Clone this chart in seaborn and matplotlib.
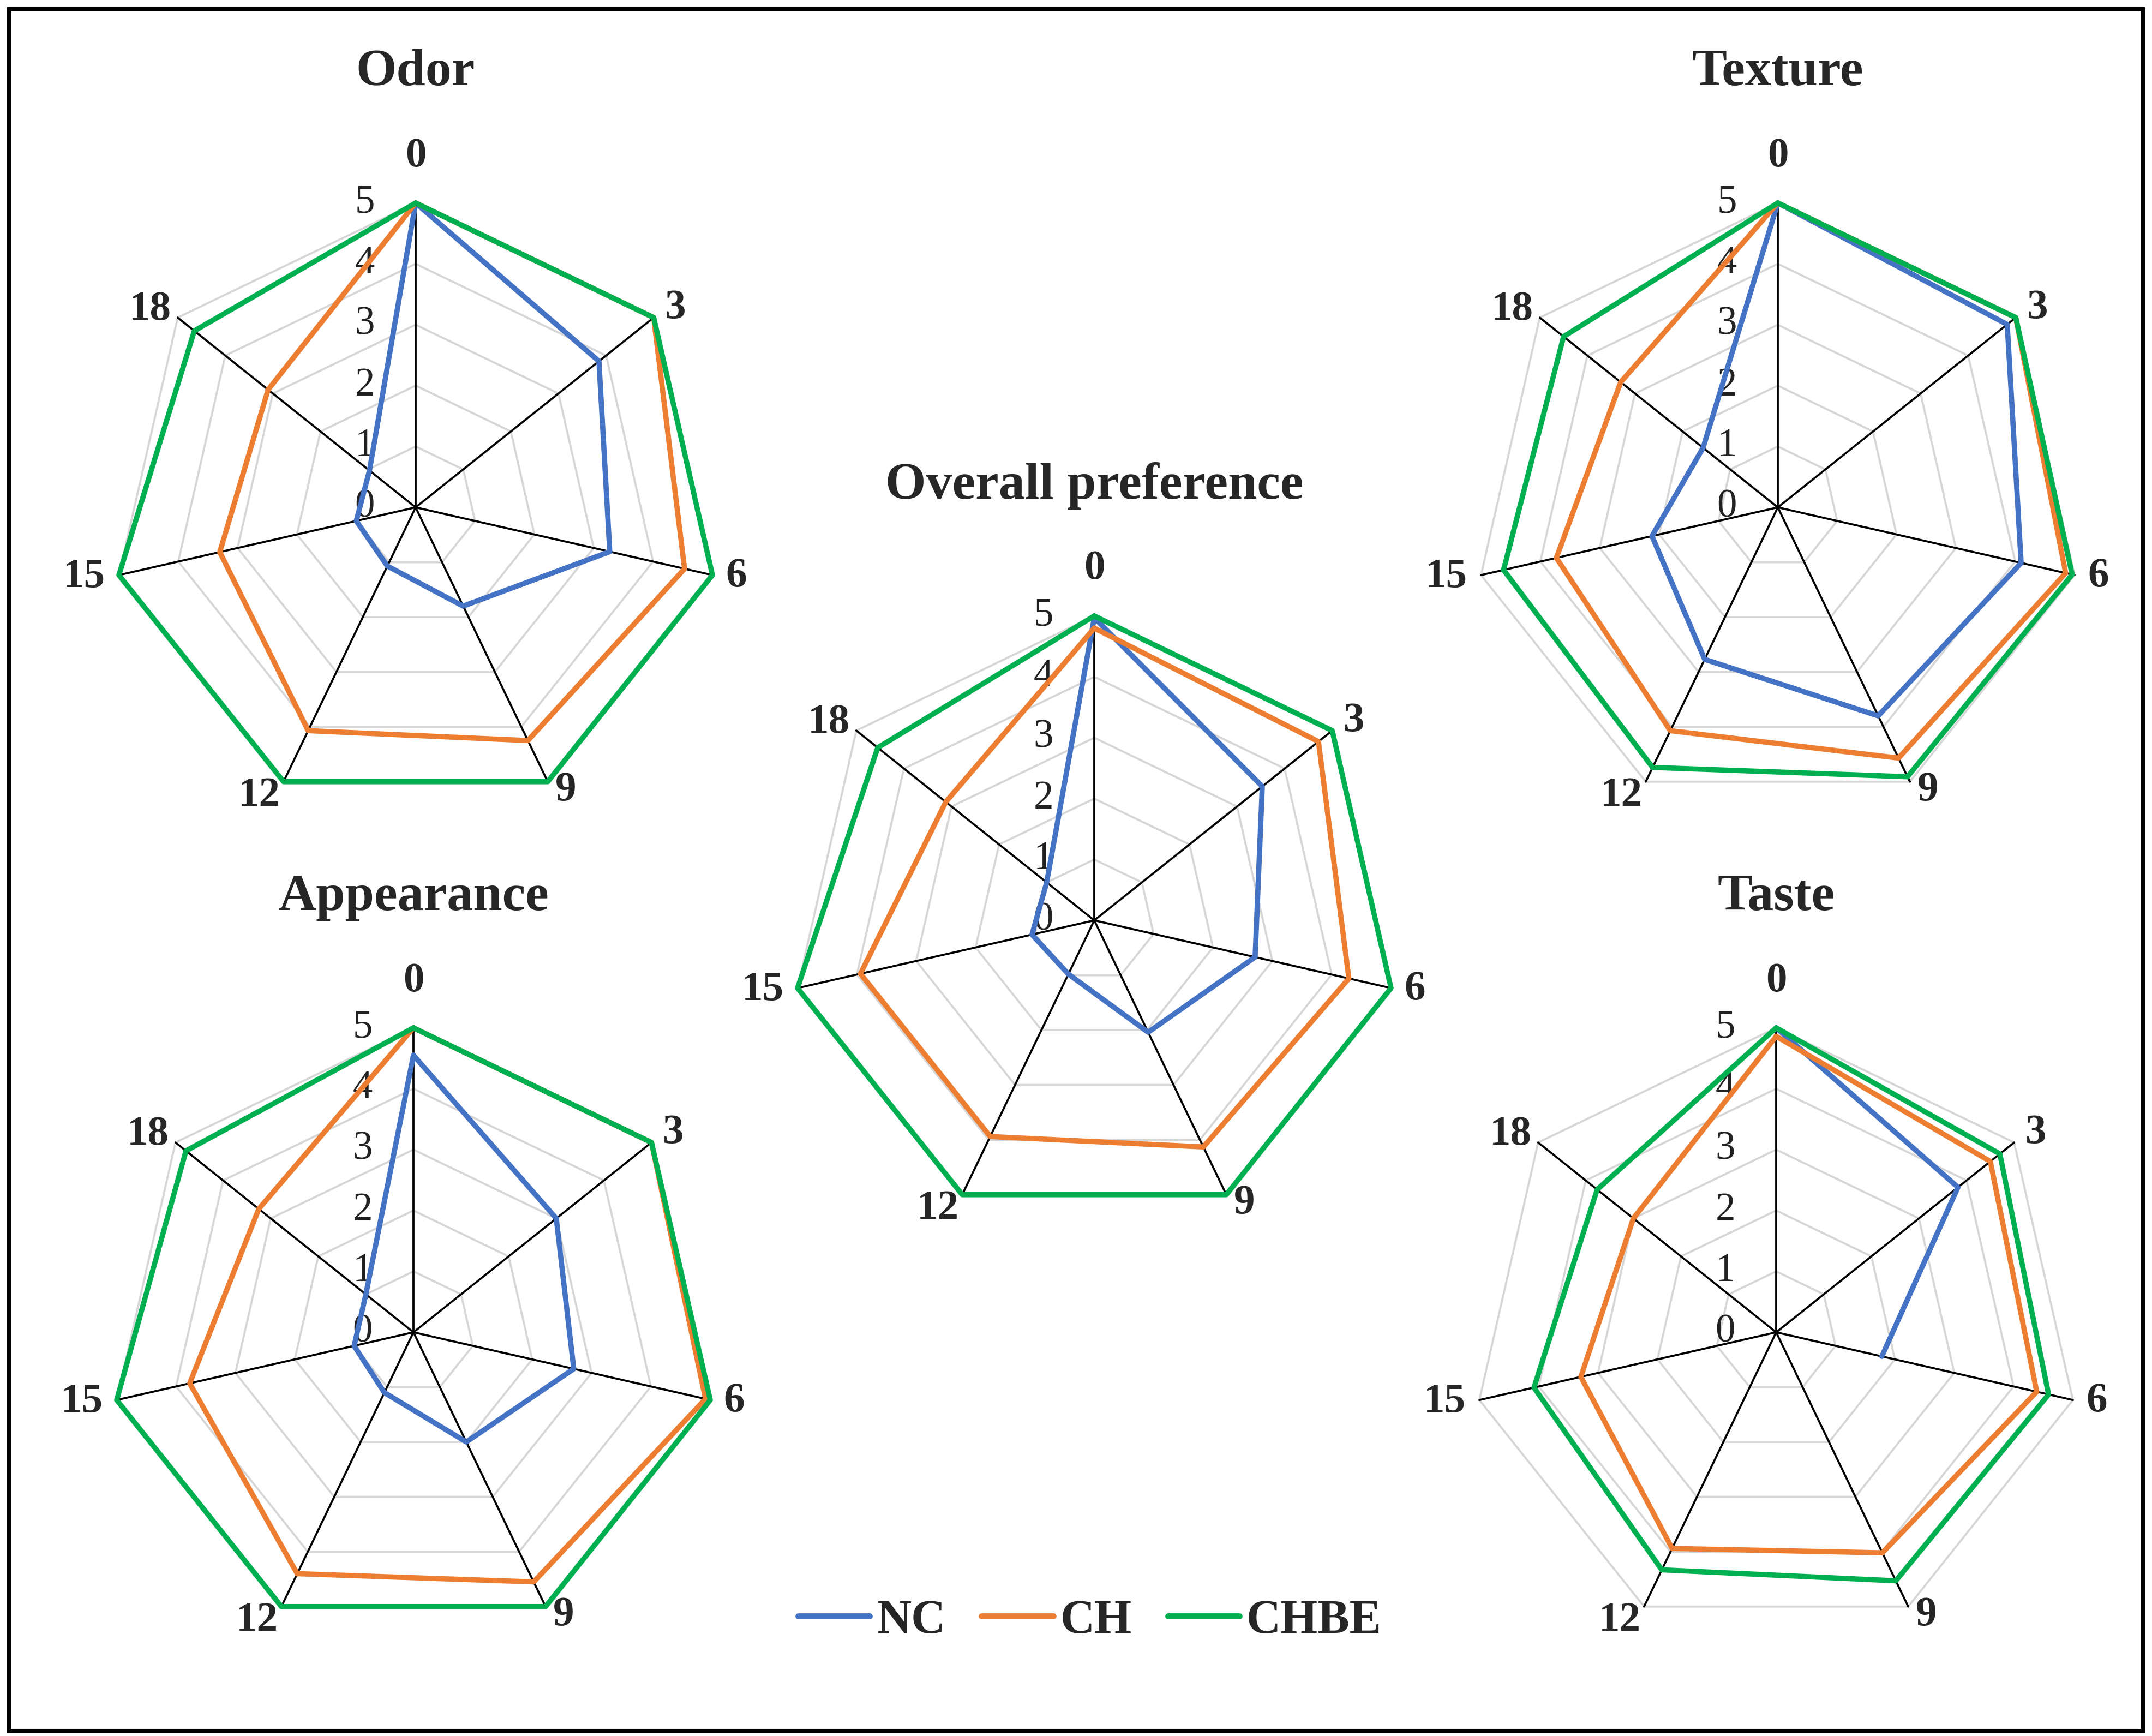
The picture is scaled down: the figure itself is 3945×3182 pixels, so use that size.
import numpy as np
import pandas as pd
import matplotlib
matplotlib.use("Agg")
import matplotlib.pyplot as plt
from matplotlib.lines import Line2D
from matplotlib.patches import Rectangle
import seaborn as sns

# ---------------- data ----------------
time_points = ["0", "3", "6", "9", "12", "15", "18"]
series_names = ["NC", "CH", "CHBE"]

odor_nc = [5.0, 3.85, 3.27, 1.80, 1.07, 1.00, 0.97]
odor_ch = [5.0, 5.0, 4.53, 4.25, 4.07, 3.30, 3.10]
odor_chbe = [5.0, 5.0, 5.0, 5.0, 5.0, 5.0, 4.65]

texture_nc = [5.0, 4.82, 4.10, 3.80, 2.77, 2.12, 1.57]
texture_ch = [5.0, 5.0, 4.85, 4.57, 4.07, 3.73, 3.30]
texture_chbe = [5.0, 5.0, 4.96, 4.91, 4.74, 4.62, 4.50]

overall_nc = [4.97, 3.53, 2.71, 2.04, 0.98, 1.05, 1.00]
overall_ch = [4.80, 4.71, 4.29, 4.13, 3.94, 3.94, 3.12]
overall_chbe = [5.0, 5.0, 5.0, 5.0, 5.0, 5.0, 4.55]

appearance_nc = [4.55, 3.00, 2.70, 2.00, 1.10, 1.00, 1.00]
appearance_ch = [5.0, 5.0, 4.92, 4.55, 4.40, 3.77, 3.25]
appearance_chbe = [5.0, 5.0, 5.0, 5.0, 5.0, 5.0, 4.78]

taste_nc = [5.0, 3.82, 1.78, np.nan, np.nan, np.nan, np.nan]
taste_ch = [4.86, 4.50, 4.39, 4.02, 3.94, 3.29, 3.00]
taste_chbe = [5.0, 4.70, 4.59, 4.53, 4.33, 4.08, 3.76]

radial_ticks = [0, 1, 2, 3, 4, 5]

# ---------------- style ----------------
sns.set_theme(style="white")
plt.rcParams["font.family"] = ["Liberation Serif", "DejaVu Serif"]

colors = {"NC": "#4472C4", "CH": "#ED7D31", "CHBE": "#00B050"}
W, H = 3945, 3182
DPI = 300
fig = plt.figure(figsize=(W / DPI, H / DPI), dpi=DPI)
fig.patch.set_facecolor("white")

R = 558  # pixel radius of the value 5 ring
n = len(time_points)
thetas = np.arange(n) * 2 * np.pi / n

# label offsets in pixels (dx right, dy up) relative to the end of each spoke
label_offsets_px = [(0, 86), (40, 18), (44, -2), (33, -16), (-44, -26), (-64, -3), (-50, 15)]


def radar(cx, cy, title, nc, ch, chbe):
    ax = fig.add_axes([(cx - R) / W, 1 - (cy + R) / H, 2 * R / W, 2 * R / H],
                      projection="polar")
    ax.set_theta_zero_location("N")
    ax.set_theta_direction(-1)
    ax.patch.set_alpha(0)
    ax.grid(False)
    ax.set_xticks([])
    ax.set_yticks([])
    ax.spines["polar"].set_visible(False)

    th_closed = np.append(thetas, thetas[0])
    # polygon gridlines
    for lev in radial_ticks[1:]:
        ax.plot(th_closed, [lev] * (n + 1), color="#d6d6d6", lw=0.9, zorder=1,
                clip_on=False)
    # spokes
    for t in thetas:
        ax.plot([t, t], [0, 5], color="black", lw=0.9, zorder=2, clip_on=False)

    # radial value labels
    for v in radial_ticks:
        ax.annotate(str(v), xy=(0, v), xytext=(-18, 0), textcoords="offset points",
                    ha="right", va="center", fontsize=17.5, color="#222222",
                    zorder=1.5, annotation_clip=False)

    # category labels
    for t, lab, (dx, dy) in zip(thetas, time_points, label_offsets_px):
        ax.annotate(lab, xy=(t, 5), xytext=(dx * 72 / DPI, dy * 72 / DPI),
                    textcoords="offset points", ha="center", va="center",
                    fontsize=18.5, fontweight="bold", annotation_clip=False)

    # series
    for name, vals in zip(series_names, [nc, ch, chbe]):
        vals = np.asarray(vals, dtype=float)
        if np.all(np.isfinite(vals)):
            tt = th_closed
            vv = np.append(vals, vals[0])
        else:
            ok = np.isfinite(vals)
            tt = thetas[ok]
            vv = vals[ok]
        df = pd.DataFrame({"theta": tt, "score": vv})
        sns.lineplot(data=df, x="theta", y="score", ax=ax, sort=False,
                     estimator=None, color=colors[name], lw=2.3, zorder=3,
                     clip_on=False)
    ax.set_xlabel("")
    ax.set_ylabel("")
    ax.set_ylim(0, 5)

    ax.text(0.5, 0.5 + 797 / (2 * R), title, transform=ax.transAxes,
            ha="center", va="center", fontsize=23, fontweight="bold")
    return ax


radar(762, 930, "Odor", odor_nc, odor_ch, odor_chbe)
radar(3259, 930, "Texture", texture_nc, texture_ch, texture_chbe)
radar(2006, 1687, "Overall preference", overall_nc, overall_ch, overall_chbe)
radar(758, 2442, "Appearance", appearance_nc, appearance_ch, appearance_chbe)
radar(3256, 2442, "Taste", taste_nc, taste_ch, taste_chbe)

# legend
handles = [Line2D([0], [0], color=colors[s], lw=2.6) for s in series_names]
fig.legend(handles, series_names, loc="center",
           bbox_to_anchor=(1998 / W, 1 - 2971 / H), ncol=3, frameon=False,
           prop={"family": ["Liberation Serif"], "weight": "bold", "size": 21},
           handlelength=1.5, handletextpad=0.15, columnspacing=0.75)

# outer frame
fig.add_artist(Rectangle((16 / W, 10 / H), (3928 - 16) / W, (3172 - 16) / H,
                         transform=fig.transFigure, fill=False, ec="black",
                         lw=1.7))

fig.savefig("out.png", dpi=DPI, facecolor="white")
